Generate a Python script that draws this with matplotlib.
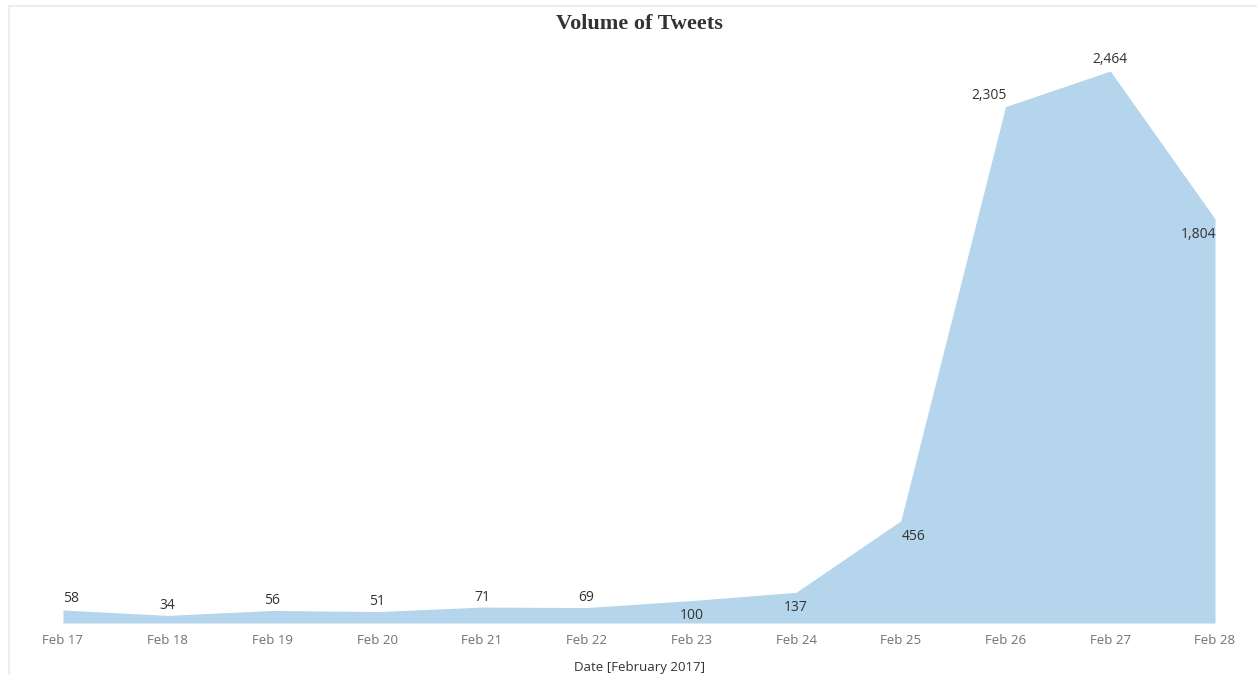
import matplotlib.pyplot as plt
from matplotlib.lines import Line2D
import numpy as np

dates = ["Feb 17", "Feb 18", "Feb 19", "Feb 20", "Feb 21", "Feb 22",
         "Feb 23", "Feb 24", "Feb 25", "Feb 26", "Feb 27", "Feb 28"]
tweets = [58, 34, 56, 51, 71, 69, 100, 137, 456, 2305, 2464, 1804]

# label offsets in points (dx, dy) and alignment, like Tableau placed them
offsets = [(0, 8, "left"), (0, 7, "center"), (0, 7, "center"), (0, 7, "center"),
           (0, 7, "center"), (0, 7, "center"), (0, -11, "center"), (0, -11, "center"),
           (9, -11, "center"), (-12, 8, "center"), (0, 8, "center"), (-12, -11, "center")]

W, H = 1257, 675
fig = plt.figure(figsize=(W / 100, H / 100), dpi=100)
ax = fig.add_axes([63 / W, (H - 623) / H, (1215 - 63) / W, (623 - 40) / H])

x = np.arange(len(dates))
ax.fill_between(x, tweets, 0, color="#b4d5eb", linewidth=0)
ax.set_xlim(0, len(dates) - 1)
ax.set_ylim(0, 2464 * (623 - 40) / (623 - 71))

for xi, yi, (dx, dy, ha) in zip(x, tweets, offsets):
    ax.annotate(f"{yi:,}", (xi, yi), xytext=(dx, dy), textcoords="offset points",
                ha=ha, va="center", fontsize=10, color="#333333",
                family="Open Sans", annotation_clip=False)

ax.set_xticks(x)
ax.set_xticklabels(dates, fontsize=9.5, color="#7a7068", family="Open Sans")
ax.tick_params(axis="x", length=0, pad=8)
ax.set_yticks([])
for s in ax.spines.values():
    s.set_visible(False)

ax.set_xlabel("Date [February 2017]", fontsize=9.5, color="#333333",
              family="Open Sans", labelpad=10)

fig.text(639 / W, 1 - 24 / H, "Volume of Tweets", ha="center", va="center",
         fontsize=16, fontweight="bold", color="#333333", family="Liberation Serif")

# faint frame on top and left, as in the dashboard
fig.add_artist(Line2D([9 / W, 1], [1 - 6 / H, 1 - 6 / H], color="#eeeeee", lw=1.5))
fig.add_artist(Line2D([9 / W, 9 / W], [0, 1 - 6 / H], color="#eeeeee", lw=1.5))

fig.savefig("out.png", dpi=100)
